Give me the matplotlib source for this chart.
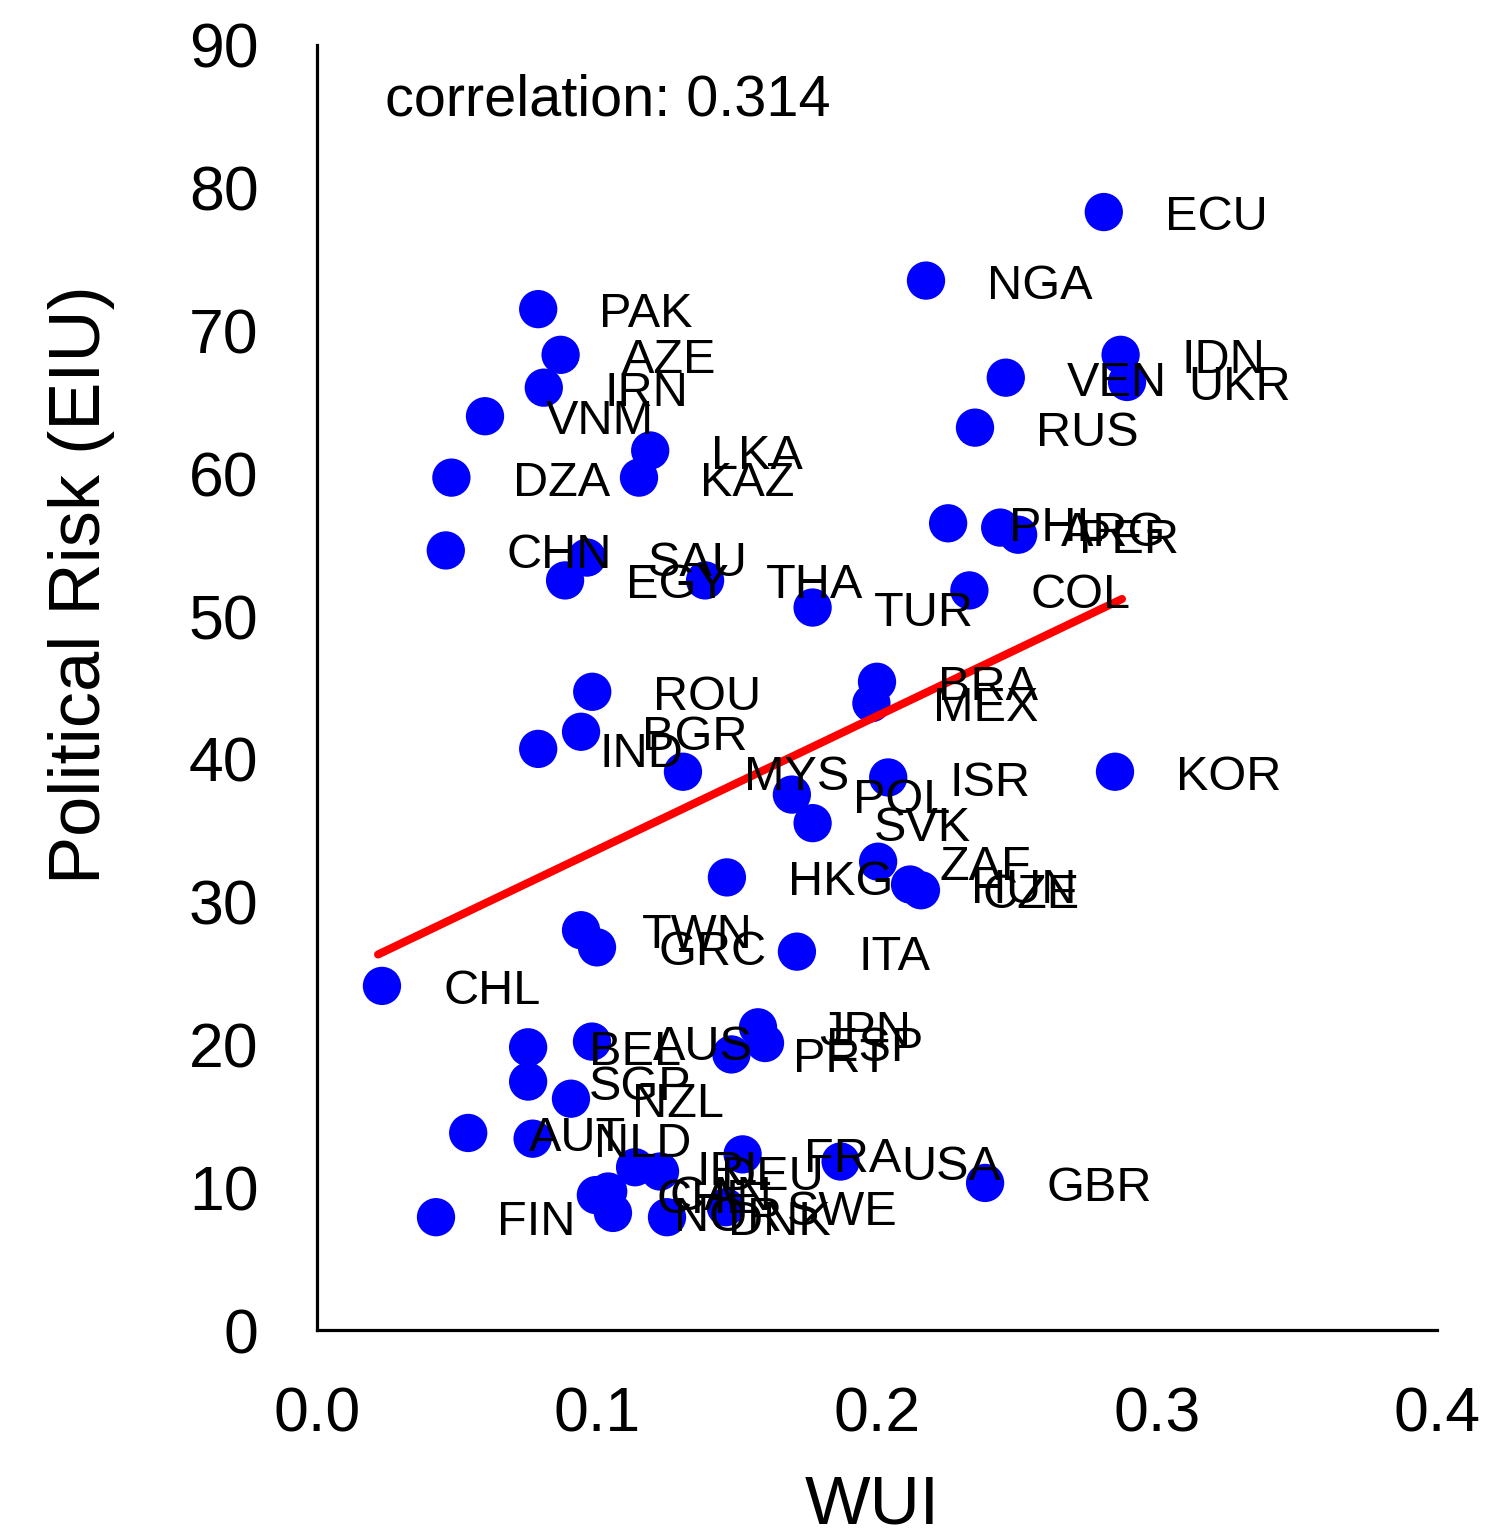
import matplotlib
matplotlib.use("Agg")
import matplotlib.pyplot as plt

plt.rcParams['font.family'] = ['Liberation Sans', 'DejaVu Sans']

countries = ["ECU", "NGA", "PAK", "AZE", "IRN", "VNM", "IDN", "UKR", "VEN", "RUS",
             "LKA", "KAZ", "DZA", "CHN", "SAU", "EGY", "THA", "TUR", "PHL", "ARG",
             "PER", "COL", "BRA", "MEX", "KOR", "ISR", "MYS", "POL", "SVK", "ZAF",
             "HUN", "CZE", "HKG", "ROU", "BGR", "IND", "TWN", "GRC", "ITA", "CHL",
             "BEL", "AUS", "SGP", "NZL", "AUT", "NLD", "FIN", "JPN", "ESP", "PRT",
             "FRA", "USA", "GBR", "IRL", "DEU", "CAN", "CHE", "NOR", "DNK", "SWE"]
wui = [0.281, 0.2175, 0.079, 0.087, 0.081, 0.060, 0.287, 0.2893, 0.246, 0.235,
       0.119, 0.115, 0.048, 0.046, 0.0964, 0.0886, 0.1386, 0.177, 0.2254, 0.244,
       0.2504, 0.233, 0.200, 0.198, 0.285, 0.204, 0.1307, 0.1696, 0.177, 0.2004,
       0.2118, 0.2157, 0.1464, 0.0983, 0.0943, 0.079, 0.0943, 0.100, 0.1714, 0.0232,
       0.0754, 0.0982, 0.0754, 0.0907, 0.054, 0.077, 0.0425, 0.1575, 0.160, 0.148,
       0.152, 0.187, 0.2386, 0.1136, 0.1225, 0.104, 0.0996, 0.1057, 0.125, 0.146]
risk = [78.3, 73.5, 71.5, 68.3, 66.0, 64.0, 68.3, 66.4, 66.7, 63.2,
        61.6, 59.7, 59.7, 54.6, 54.1, 52.5, 52.5, 50.6, 56.5, 56.2,
        55.7, 51.8, 45.4, 43.9, 39.1, 38.7, 39.1, 37.5, 35.5, 32.8,
        31.2, 30.8, 31.7, 44.7, 41.9, 40.7, 28.0, 26.8, 26.5, 24.1,
        19.8, 20.2, 17.4, 16.2, 13.8, 13.4, 7.9, 21.2, 20.1, 19.3,
        12.3, 11.8, 10.3, 11.4, 11.1, 9.7, 9.45, 8.2, 7.9, 8.6]

trend_x = [0.0218, 0.2875]
trend_y = [26.3, 51.2]
correlation = 0.314

x_ticks = [0.0, 0.1, 0.2, 0.3, 0.4]
x_ticklabels = ["0.0", "0.1", "0.2", "0.3", "0.4"]
y_ticks = [0, 10, 20, 30, 40, 50, 60, 70, 80, 90]

fig = plt.figure(figsize=(15.01, 15.33), dpi=100)
ax = fig.add_axes([317/1501, (1533-1330)/1533, 1120/1501, 1285/1533])

ax.scatter(wui, risk, s=760, color='#0000FF', edgecolors='none', zorder=3)
ax.plot(trend_x, trend_y, color='#FF0000', lw=5.8, solid_capstyle='round', zorder=4)

for c, xv, yv in zip(countries, wui, risk):
    ax.annotate(c, (xv, yv), xytext=(44, -4), textcoords='offset points',
                fontsize=35, va='center', ha='left', color='black', zorder=5)

ax.text(385/1501, 1 - 100/1533, f"correlation: {correlation}", transform=fig.transFigure,
        fontsize=41.5, va='center', ha='left')

ax.set_xlim(0, 0.4)
ax.set_ylim(0, 90)
ax.set_xticks(x_ticks)
ax.set_xticklabels(x_ticklabels)
ax.set_yticks(y_ticks)
ax.tick_params(axis='both', length=0, labelsize=45)
ax.tick_params(axis='y', pad=42)
ax.tick_params(axis='x', pad=40)

for s in ['top', 'right']:
    ax.spines[s].set_visible(False)
for s in ['left', 'bottom']:
    ax.spines[s].set_linewidth(2.3)
    ax.spines[s].set_color('black')

ax.set_xlabel("WUI", fontsize=50)
ax.set_ylabel("Political Risk (EIU)", fontsize=52)
ax.xaxis.set_label_coords(0.4955, -0.112)
ax.yaxis.set_label_coords(-0.18, 0.58)

fig.savefig("out.png", dpi=100)
